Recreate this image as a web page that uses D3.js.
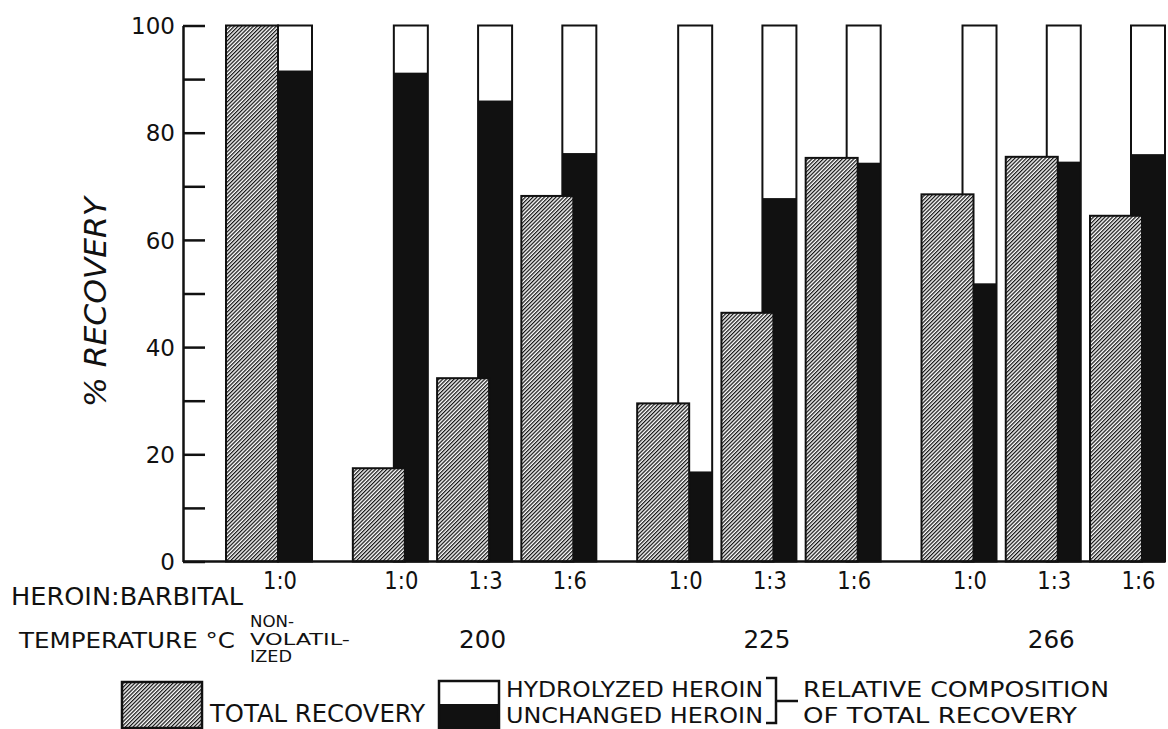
<!DOCTYPE html>
<html>
<head>
<meta charset="utf-8">
<script src="https://cdn.jsdelivr.net/npm/d3@7"></script>
<style>
  html, body { margin: 0; padding: 0; background: #fff; }
  svg { display: block; }
  text { font-family: "DejaVu Sans", sans-serif; fill: #111; }
</style>
</head>
<body>
<svg id="chart" width="1168" height="729"></svg>
<script>
// Heroin recovery (%) after volatilization, by heroin:barbital ratio and temperature
const ratios        = ["1:0", "1:0", "1:3", "1:6", "1:0", "1:3", "1:6", "1:0", "1:3", "1:6"];
const temperatures  = ["NON-VOLATILIZED", "200", "200", "200", "225", "225", "225", "266", "266", "266"];
const totalRecovery = [100, 17.4, 34.2, 68.2, 29.5, 46.4, 75.3, 68.5, 75.5, 64.5];
// relative composition of the recovered material (sums to 100)
const unchangedHeroin  = [91.6, 91.2, 86.0, 76.2, 16.8, 67.8, 74.4, 51.9, 74.6, 76.0];
const hydrolyzedHeroin = [8.4, 8.8, 14.0, 23.8, 83.2, 32.2, 25.6, 48.1, 25.4, 24.0];
const yTickValues = [0, 10, 20, 30, 40, 50, 60, 70, 80, 90, 100];
const yTickLabels = ["0", "", "20", "", "40", "", "60", "", "80", "", "100"];

const ink = "#111";
const svg = d3.select("#chart");

// hatch fill for the total-recovery bars
const defs = svg.append("defs");
const hatch = defs.append("pattern")
  .attr("id", "hatch")
  .attr("patternUnits", "userSpaceOnUse")
  .attr("width", 2.7).attr("height", 2.7)
  .attr("patternTransform", "rotate(45)");
hatch.append("rect").attr("width", 2.7).attr("height", 2.7).attr("fill", "#fff");
hatch.append("rect").attr("width", 1.25).attr("height", 2.7).attr("fill", ink);

const y = d3.scaleLinear().domain([0, 100]).range([561.5, 25.5]);

// one unit per bar pair, plus a wider gap between temperature groups
const slots = [];
let u = 0;
temperatures.forEach((t, i) => {
  if (i > 0) u += (t === temperatures[i - 1]) ? 1 : 1.375;
  slots.push(u);
});
const x = d3.scaleLinear().domain([0, slots[slots.length - 1]]).range([278, 1131]);

const compW = 34, hatchW = 52, overlap = 11;

const bars = ratios.map((r, i) => {
  const cx = x(slots[i]);
  const adjacent = temperatures[i] === "NON-VOLATILIZED";
  return {
    ratio: r, temp: temperatures[i],
    total: totalRecovery[i], unchanged: unchangedHeroin[i], hydrolyzed: hydrolyzedHeroin[i],
    compX: cx,
    hatchX: adjacent ? cx - hatchW : cx - hatchW + overlap
  };
});

// composition bars (behind)
const comp = svg.append("g").selectAll("g").data(bars).join("g");
comp.append("rect")
  .attr("x", d => d.compX).attr("width", compW)
  .attr("y", d => y(d.unchanged + d.hydrolyzed))
  .attr("height", d => y(d.unchanged) - y(d.unchanged + d.hydrolyzed))
  .attr("fill", "#fff");
comp.append("rect")
  .attr("x", d => d.compX).attr("width", compW)
  .attr("y", d => y(d.unchanged))
  .attr("height", d => y(0) - y(d.unchanged))
  .attr("fill", ink);
comp.append("rect")
  .attr("x", d => d.compX).attr("width", compW)
  .attr("y", d => y(d.unchanged + d.hydrolyzed))
  .attr("height", d => y(0) - y(d.unchanged + d.hydrolyzed))
  .attr("fill", "none").attr("stroke", ink).attr("stroke-width", 2);

// total recovery bars (front)
svg.append("g").selectAll("rect").data(bars).join("rect")
  .attr("x", d => d.hatchX).attr("width", hatchW)
  .attr("y", d => y(d.total))
  .attr("height", d => y(0) - y(d.total))
  .attr("fill", "url(#hatch)")
  .attr("stroke", ink).attr("stroke-width", 2);

// y axis, ticks pointing into the plot
const yAxis = svg.append("g")
  .attr("transform", "translate(183,0)")
  .call(d3.axisLeft(y)
    .tickValues(yTickValues)
    .tickSizeInner(-22).tickSizeOuter(0).tickPadding(8)
    .tickFormat((d, i) => yTickLabels[i]));
yAxis.select(".domain").attr("stroke", ink).attr("stroke-width", 2.5);
yAxis.selectAll(".tick line").attr("stroke", ink).attr("stroke-width", 2.5);
yAxis.selectAll(".tick text")
  .attr("font-size", 23).attr("font-family", "DejaVu Sans, sans-serif")
  .attr("fill", ink).attr("dy", "0.36em");

// baseline
svg.append("line")
  .attr("x1", 183).attr("x2", x(slots[slots.length - 1]) + compW)
  .attr("y1", y(0)).attr("y2", y(0))
  .attr("stroke", ink).attr("stroke-width", 2.5);

// y axis title
svg.append("text")
  .attr("transform", "translate(106,302) rotate(-90)")
  .attr("text-anchor", "middle")
  .attr("font-size", 30).attr("font-style", "italic")
  .attr("textLength", 210).attr("lengthAdjust", "spacingAndGlyphs")
  .text("% RECOVERY");

// ratio labels under each pair
svg.append("g").selectAll("text").data(bars).join("text")
  .attr("x", d => (d.hatchX + d.compX + compW) / 2 + 11).attr("y", 589)
  .attr("text-anchor", "middle")
  .attr("font-size", 25)
  .attr("textLength", 34).attr("lengthAdjust", "spacingAndGlyphs")
  .text(d => d.ratio);

// row headings
svg.append("text").attr("x", 11).attr("y", 605)
  .attr("font-size", 24).attr("textLength", 232).attr("lengthAdjust", "spacingAndGlyphs")
  .text("HEROIN:BARBITAL");
svg.append("text").attr("x", 19).attr("y", 648)
  .attr("font-size", 22).attr("textLength", 216).attr("lengthAdjust", "spacingAndGlyphs")
  .text("TEMPERATURE °C");

// temperature labels
const groups = d3.groups(bars, d => d.temp);
groups.forEach(([t, g]) => {
  if (t === "NON-VOLATILIZED") {
    const lines = ["NON-", "VOLATIL-", "IZED"];
    const lw = [44, 100, 42];
    const ly = [627, 644.5, 662];
    const lbl = svg.append("text").attr("font-size", 15);
    lines.forEach((s, k) => lbl.append("tspan")
      .attr("x", g[0].hatchX + 24).attr("y", ly[k])
      .attr("textLength", lw[k]).attr("lengthAdjust", "spacingAndGlyphs")
      .text(s));
  } else {
    const left = g[0].hatchX, right = g[g.length - 1].compX + compW;
    svg.append("text")
      .attr("x", (left + right) / 2 + 8).attr("y", 648)
      .attr("text-anchor", "middle")
      .attr("font-size", 24).attr("textLength", 47).attr("lengthAdjust", "spacingAndGlyphs")
      .text(t);
  }
});

// legend
const lg = svg.append("g");
lg.append("rect").attr("x", 122).attr("y", 682).attr("width", 80).attr("height", 46)
  .attr("fill", "url(#hatch)").attr("stroke", ink).attr("stroke-width", 2.5);
lg.append("text").attr("x", 210).attr("y", 722)
  .attr("font-size", 25).attr("textLength", 215).attr("lengthAdjust", "spacingAndGlyphs")
  .text("TOTAL RECOVERY");
lg.append("rect").attr("x", 439).attr("y", 681).attr("width", 60).attr("height", 23)
  .attr("fill", "#fff");
lg.append("rect").attr("x", 439).attr("y", 704).attr("width", 60).attr("height", 24)
  .attr("fill", ink);
lg.append("rect").attr("x", 439).attr("y", 681).attr("width", 60).attr("height", 47)
  .attr("fill", "none").attr("stroke", ink).attr("stroke-width", 2.5);
lg.append("text").attr("x", 506).attr("y", 697)
  .attr("font-size", 22).attr("textLength", 257).attr("lengthAdjust", "spacingAndGlyphs")
  .text("HYDROLYZED HEROIN");
lg.append("text").attr("x", 506).attr("y", 723)
  .attr("font-size", 22).attr("textLength", 257).attr("lengthAdjust", "spacingAndGlyphs")
  .text("UNCHANGED HEROIN");
lg.append("path")
  .attr("d", "M766,678 H776 V723 H766 M776,701 H798")
  .attr("fill", "none").attr("stroke", ink).attr("stroke-width", 2.5);
const rel = lg.append("text").attr("font-size", 22);
rel.append("tspan").attr("x", 803).attr("y", 697)
  .attr("textLength", 306).attr("lengthAdjust", "spacingAndGlyphs")
  .text("RELATIVE COMPOSITION");
rel.append("tspan").attr("x", 803).attr("y", 723)
  .attr("textLength", 274).attr("lengthAdjust", "spacingAndGlyphs")
  .text("OF TOTAL RECOVERY");
</script>
</body>
</html>
